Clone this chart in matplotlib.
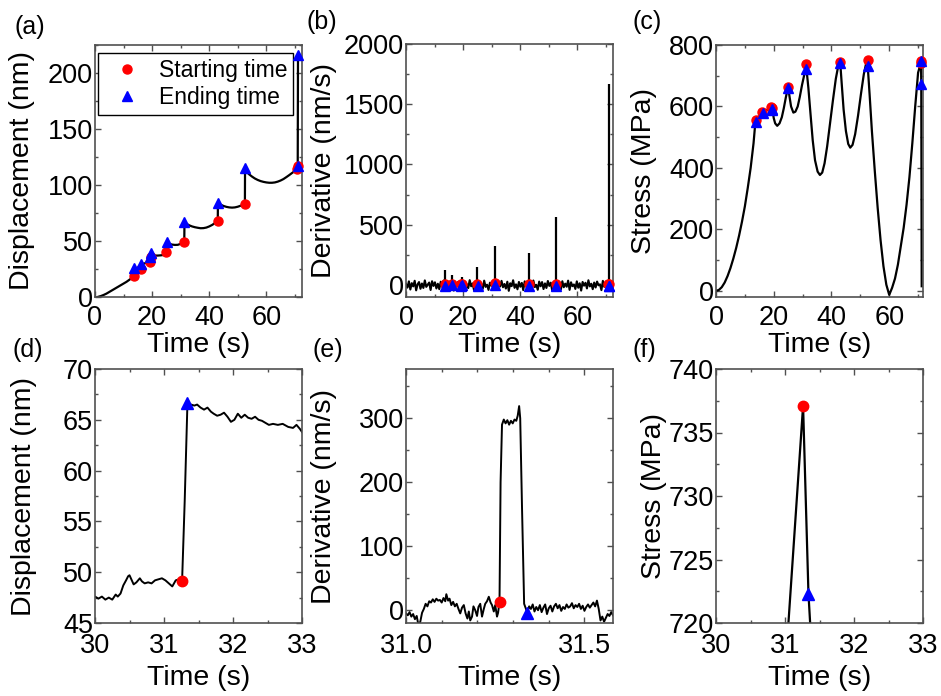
import numpy as np
import matplotlib
matplotlib.use("Agg")
import matplotlib.pyplot as plt
from matplotlib.ticker import MultipleLocator, FormatStrFormatter

plt.rcParams['font.family'] = ['Liberation Sans', 'DejaVu Sans']

# ---------------- event markers (start / end of each burst) ----------------
ev_start_t = [13.7, 16.1, 19.2, 19.5, 25.0, 31.262, 43.0, 52.5, 70.9, 71.0]
ev_end_t = [13.75, 16.15, 19.25, 19.55, 25.05, 31.34, 43.05, 52.55, 71.0, 71.1]
ev_start_disp = [18.5, 24.8, 31.0, 35.5, 40.0, 49.1, 68.0, 83.0, 114.0, 117.0]
ev_end_disp = [25.5, 29.2, 36.0, 39.0, 48.8, 66.7, 84.0, 115.0, 117.0, 216.0]
ev_start_stress = [556, 583, 597, 594, 664, 737.1, 745, 751, 740, 749]
ev_end_stress = [550, 580, 592, 590, 659, 722.3, 740, 732, 749, 672]
ev_start_deriv = [10, 8, 10, 6, 8, 13, 8, 10, 8, 12]
ev_end_deriv = [-5, -3, -6, -4, -5, -4, -5, -6, -5, -8]
spike_height = [125, 85, 45, 65, 152, 320, 263, 560, 40, 1665]

# ---------------- displacement vs time ----------------
disp_t = [0.9, 2, 3, 4, 5, 6, 7, 8, 9, 10, 11, 12, 13, 13.7, 13.75, 14.5, 15.3,
          16.1, 16.15, 17, 18, 19.2, 19.25, 19.5, 19.55, 20, 21, 22, 23, 24, 24.6,
          25.0, 25.05, 26, 27, 28, 29, 30, 30.5, 31, 31.262, 31.34, 32, 33, 34, 35,
          36, 37, 38, 39, 40, 41, 42, 43.0, 43.05, 44, 45, 46, 47, 48, 49, 50, 51,
          52, 52.5, 52.55, 53, 54, 55, 56, 57, 58, 59, 60, 61, 62, 63, 64, 65, 66,
          67, 68, 69, 70, 70.9, 71.0, 71.1]
disp_v = [0, 0.8, 1.8, 3, 4.5, 6, 7.5, 9, 10.5, 12, 13.5, 15.3, 17.2, 18.5, 25.5,
          25.2, 24.9, 24.8, 29.2, 29.8, 30.4, 31.0, 36.0, 35.5, 39.0, 37.5, 37.0,
          37.0, 37.2, 37.5, 38.5, 40.0, 48.8, 47.5, 46.8, 46.5, 46.6, 47.5, 49.6,
          49.2, 49.1, 66.7, 65.4, 64.0, 63.0, 62.3, 61.8, 61.4, 61.5, 62.0, 63.0,
          64.3, 66.0, 68.0, 84.0, 82.5, 81.3, 80.5, 80.0, 79.8, 80.0, 80.6, 81.5,
          82.5, 83.0, 115.0, 112.0, 109.5, 107.5, 105.8, 104.5, 103.5, 102.8,
          102.3, 102.0, 102.0, 102.3, 103.0, 104.0, 105.3, 107.0, 108.8, 110.7,
          112.5, 114.0, 117.0, 216.0]

# ---------------- derivative baseline (sampled every 0.5 s) ----------------
deriv_base = [8, -22, 30, -38, 15, -12, 35, -45, 5, 24, -32, 12, -25, 38, -16, 2,
              20, -42, 31, -8, 22, -29, 10, -35, 27, -14, 37, -22, 4, -40, 18, -10,
              30, -47, 14, -5, 25, -31, 21, -18, 33, -37, 7, -26, 40, -11, 13, -44,
              24, -4, 28, -21, 11, -33, 36, -16, 2, -41, 19, -7, 31, -27, 16, -38,
              22, -13, 34, -19, 8, -30, 27, -49, 14, -10, 39, -24, 5, -36, 25, -15,
              17, -43, 30, -2, 21, -31, 10, -22, 37, -18, 1, -40, 28, -11, 24, -34,
              13, -25, 33, -8, 19, -46, 16, -5, 27, -28, 7, -37, 31, -19, 11, -15,
              36, -41, 22, -10, 4, -33, 30, -23, 14, -47, 25, -6, 18, -29, 39, -12,
              10, -35, 20, -21, 28, -3, 5, -43, 34, -16, 16, -27, 23, -38, 8, -17]

# ---------------- stress vs time ----------------
stress_t = [0, 1, 2, 3, 4, 5, 6, 7, 8, 9, 10, 11, 12, 13, 13.7, 13.75, 14.5, 15.3,
            16.1, 16.15, 17, 18, 19.2, 19.25, 19.5, 19.55, 20, 20.5, 21.2, 22, 22.8,
            23.5, 24.2, 25.0, 25.05, 25.5, 26, 26.8, 27.5, 28.3, 29, 29.8, 30.5,
            31.0, 31.262, 31.34, 32, 32.7, 33.5, 34.3, 35.2, 36, 36.8, 37.6, 38.5,
            39.5, 40.5, 41.5, 42.3, 43.0, 43.05, 43.5, 44.2, 45, 45.8, 46.5, 47.3,
            48.2, 49.2, 50.2, 51.2, 52.0, 52.5, 52.55, 53.2, 54, 55, 56, 57, 58, 59,
            60, 61, 62, 63, 64, 65, 66, 67, 68, 69, 70, 70.9, 71.0, 71.1, 71.25]
stress_v = [0, 3, 12, 27, 48, 74, 105, 140, 180, 225, 275, 335, 400, 480, 556,
            550, 562, 572, 583, 580, 585, 590, 597, 592, 594, 590, 562, 545, 537,
            545, 565, 595, 630, 664, 659, 630, 600, 580, 583, 600, 630, 670, 700,
            716, 737.1, 722.3, 660, 580, 490, 425, 388, 377, 385, 415, 470, 545,
            620, 690, 730, 745, 740, 680, 590, 520, 478, 466, 475, 510, 570, 640,
            705, 740, 751, 732, 640, 520, 390, 270, 165, 80, 20, -13, 10, 40, 85,
            145, 205, 280, 370, 480, 600, 710, 740, 749, 672, 15]

# ---------------- zoomed displacement around the 31.3 s burst ----------------
dz_t = [30.00, 30.05, 30.10, 30.15, 30.20, 30.25, 30.30, 30.33, 30.37, 30.41,
        30.45, 30.48, 30.50, 30.52, 30.56, 30.60, 30.65, 30.68, 30.72, 30.77,
        30.82, 30.87, 30.92, 30.97, 31.02, 31.07, 31.12, 31.17, 31.22, 31.262,
        31.30, 31.34, 31.39, 31.44, 31.48, 31.53, 31.58, 31.63, 31.68, 31.72,
        31.77, 31.82, 31.87, 31.92, 31.97, 32.02, 32.07, 32.12, 32.17, 32.22,
        32.27, 32.32, 32.37, 32.42, 32.47, 32.52, 32.58, 32.65, 32.72, 32.80,
        32.87, 32.92, 32.97, 33.00]
dz_v = [47.6, 47.4, 47.6, 47.3, 47.5, 47.3, 47.8, 47.6, 47.9, 48.7, 49.2, 49.6,
        49.7, 49.4, 48.8, 49.0, 49.4, 49.1, 48.9, 49.0, 48.9, 49.2, 49.3, 49.4,
        49.2, 48.9, 48.6, 49.2, 49.3, 49.1, 57.0, 66.7, 66.5, 66.4, 66.5, 66.2,
        66.0, 66.2, 65.8, 65.6, 65.4, 65.5, 65.7, 65.3, 64.8, 65.0, 65.6, 65.2,
        65.5, 65.2, 65.1, 65.3, 65.0, 64.9, 64.7, 64.5, 64.6, 64.5, 64.6, 64.3,
        64.2, 64.5, 64.1, 63.8]

# ---------------- zoomed derivative around the 31.3 s burst ----------------
vz_t = [31.000, 31.005, 31.010, 31.015, 31.020, 31.025, 31.030, 31.035, 31.040,
        31.045, 31.050, 31.055, 31.060, 31.065, 31.070, 31.075, 31.080, 31.085,
        31.090, 31.095, 31.100, 31.105, 31.110, 31.113, 31.118, 31.122, 31.127,
        31.132, 31.137, 31.142, 31.147, 31.152, 31.157, 31.162, 31.167, 31.172,
        31.176, 31.180, 31.185, 31.189, 31.194, 31.199, 31.203, 31.208, 31.213,
        31.218, 31.222, 31.227, 31.232, 31.237, 31.241, 31.246, 31.250, 31.255,
        31.258, 31.262, 31.265, 31.269, 31.274, 31.279, 31.284, 31.289, 31.294,
        31.299, 31.304, 31.309, 31.313, 31.317, 31.320, 31.325, 31.331, 31.340,
        31.345, 31.350, 31.355, 31.360, 31.365, 31.370, 31.375, 31.380, 31.385,
        31.390, 31.395, 31.400, 31.405, 31.410, 31.415, 31.420, 31.425, 31.430,
        31.435, 31.440, 31.445, 31.450, 31.455, 31.460, 31.465, 31.470, 31.475,
        31.480, 31.485, 31.490, 31.495, 31.500, 31.505, 31.510, 31.515, 31.520,
        31.525, 31.530, 31.535, 31.540, 31.545, 31.550, 31.555, 31.560, 31.565,
        31.570, 31.575, 31.580]
vz_v = [-5, -8, -3, -10, -6, -14, -9, -24, -18, -4, 2, 10, 6, 14, 12, 17, 13, 18,
        15, 16, 12, 19, 14, 25, 15, 18, 8, 13, 6, 10, 2, -5, 4, 8, -5, -13, -2,
        -16, -10, 6, 0, -9, 5, 10, -10, 2, 10, 14, 21, 12, 8, -2, 8, -10, -4, 13,
        200, 290, 298, 292, 297, 290, 296, 292, 298, 296, 304, 319, 300, 162, 10,
        -4, 6, 2, 9, -2, 5, 0, 8, -3, 4, 9, -6, 3, 7, -2, 6, 10, 3, 8, -1, 5, 2,
        9, 4, 6, 11, 3, 8, 5, 10, 2, 7, -1, 5, 9, 4, 8, 12, 6, 15, 2, -16, -10,
        -18, -12, -6, -9, -3, -8]

W, H = 941, 696
RED, BLUE = '#ff0000', '#0000ff'
SPINE = '#505050'
TICK_FS = 19.5
LBL = 20.5


def style(ax, xmaj, xmin, ymaj, ymin, xpad=6):
    ax.xaxis.set_major_locator(MultipleLocator(xmaj))
    ax.xaxis.set_minor_locator(MultipleLocator(xmin))
    ax.yaxis.set_major_locator(MultipleLocator(ymaj))
    ax.yaxis.set_minor_locator(MultipleLocator(ymin))
    ax.tick_params(which='both', direction='in', top=True, right=True,
                   color=SPINE, width=1.0)
    ax.tick_params(which='major', length=4.5, labelsize=TICK_FS)
    ax.tick_params(which='minor', length=2.5)
    ax.tick_params(axis='x', which='major', pad=xpad)
    ax.tick_params(axis='y', which='major', pad=1.5)
    for s in ax.spines.values():
        s.set_color(SPINE)
        s.set_linewidth(1.2)


def make_axes(fig, box, ylabel, ylab_right, xlab_top):
    """box = (left, top, right, bottom) in pixels; label anchors in pixels too."""
    l, t, r, b = box
    ax = fig.add_axes([l / W, 1 - b / H, (r - l) / W, (b - t) / H])
    ax.set_xlabel('Time (s)', fontsize=LBL)
    ax.set_ylabel(ylabel, fontsize=LBL)
    ax.yaxis.set_label_coords((ylab_right - l) / (r - l), 0.5)
    ax.xaxis.set_label_coords(0.5, (b - xlab_top) / (b - t))
    return ax


fig = plt.figure(figsize=(W / 100, H / 100), dpi=100)

ms_c, ms_t = 6.5, 7.5
TOP_XLAB, BOT_XLAB = 332, 665

# (a) displacement
ax = make_axes(fig, (95, 45, 302, 297), 'Displacement (nm)', 35, TOP_XLAB)
ax.plot(disp_t, disp_v, color='black', lw=1.6)
ax.plot(ev_start_t, ev_start_disp, 'o', color=RED, ms=ms_c, mec=RED,
        label='Starting time', clip_on=False, zorder=4)
ax.plot(ev_end_t, ev_end_disp, '^', color=BLUE, ms=ms_t, mec=BLUE,
        label='Ending time', clip_on=False, zorder=5)
ax.set_xlim(0, 72.5)
ax.set_ylim(0, 225)
style(ax, 20, 10, 50, 25)
leg = ax.legend(loc='upper left', bbox_to_anchor=(0.015, 0.968),
                borderaxespad=0, fontsize=16.5, frameon=True, fancybox=False,
                edgecolor='black', framealpha=1, handletextpad=0.4,
                borderpad=0.25, labelspacing=0.2, handlelength=2.0)
leg.get_frame().set_linewidth(1.0)
leg.set_zorder(3)

# (b) derivative
ax = make_axes(fig, (406, 44, 613, 297), 'Derivative (nm/s)', 337, TOP_XLAB)
base_t = np.linspace(0, 72.5, len(deriv_base))
ax.plot(base_t, deriv_base, color='black', lw=1.5)
ax.vlines(ev_start_t, 0, spike_height, color='black', lw=1.6)
ax.plot(ev_start_t, ev_start_deriv, 'o', color=RED, ms=ms_c, mec=RED,
        clip_on=False, zorder=4)
ax.plot(ev_end_t, ev_end_deriv, '^', color=BLUE, ms=ms_t, mec=BLUE,
        clip_on=False, zorder=5)
ax.set_xlim(0, 72.5)
ax.set_ylim(-100, 2000)
style(ax, 20, 10, 500, 250)

# (c) stress
ax = make_axes(fig, (716, 45, 923, 297), 'Stress (MPa)', 657, TOP_XLAB)
ax.plot(stress_t, stress_v, color='black', lw=1.6)
ax.plot(ev_start_t, ev_start_stress, 'o', color=RED, ms=ms_c, mec=RED,
        clip_on=False, zorder=4)
ax.plot(ev_end_t, ev_end_stress, '^', color=BLUE, ms=ms_t, mec=BLUE,
        clip_on=False, zorder=5)
ax.set_xlim(0, 71.7)
ax.set_ylim(-20, 800)
style(ax, 20, 10, 200, 100)

# (d) zoomed displacement
ax = make_axes(fig, (95, 369, 302, 623), 'Displacement (nm)', 37, BOT_XLAB)
ax.plot(dz_t, dz_v, color='black', lw=1.4)
ax.plot([ev_start_t[5]], [ev_start_disp[5]], 'o', color=RED, ms=7.5, mec=RED, zorder=4)
ax.plot([ev_end_t[5]], [ev_end_disp[5]], '^', color=BLUE, ms=8.5, mec=BLUE, zorder=5)
ax.set_xlim(30, 33)
ax.set_ylim(45, 70)
style(ax, 1, 0.5, 5, 2.5, xpad=7)

# (e) zoomed derivative
ax = make_axes(fig, (406, 369, 613, 623), 'Derivative (nm/s)', 337, BOT_XLAB)
ax.plot(vz_t, vz_v, color='black', lw=1.4)
ax.plot([ev_start_t[5]], [ev_start_deriv[5]], 'o', color=RED, ms=7.5, mec=RED, zorder=4)
ax.plot([ev_end_t[5]], [ev_end_deriv[5]], '^', color=BLUE, ms=8.5, mec=BLUE, zorder=5)
ax.set_xlim(31.0, 31.58)
ax.set_ylim(-20, 377)
style(ax, 0.5, 0.1, 100, 50, xpad=7)
ax.xaxis.set_major_formatter(FormatStrFormatter('%.1f'))

# (f) zoomed stress
ax = make_axes(fig, (716, 369, 923, 623), 'Stress (MPa)', 667, BOT_XLAB)
ax.plot(stress_t, stress_v, color='black', lw=1.6)
ax.plot([ev_start_t[5]], [ev_start_stress[5]], 'o', color=RED, ms=7.5, mec=RED, zorder=4)
ax.plot([ev_end_t[5]], [ev_end_stress[5]], '^', color=BLUE, ms=8.5, mec=BLUE, zorder=5)
ax.set_xlim(30, 33)
ax.set_ylim(720, 740)
style(ax, 1, 0.5, 5, 2.5, xpad=7)

# panel letters
for txt, x, y in [('(a)', 15, 27), ('(b)', 306, 22), ('(c)', 633, 22),
                  ('(d)', 13, 350), ('(e)', 313, 350), ('(f)', 633, 350)]:
    fig.text(x / W, 1 - y / H, txt, fontsize=18, va='center', ha='left')

fig.savefig('out.png', dpi=100)
